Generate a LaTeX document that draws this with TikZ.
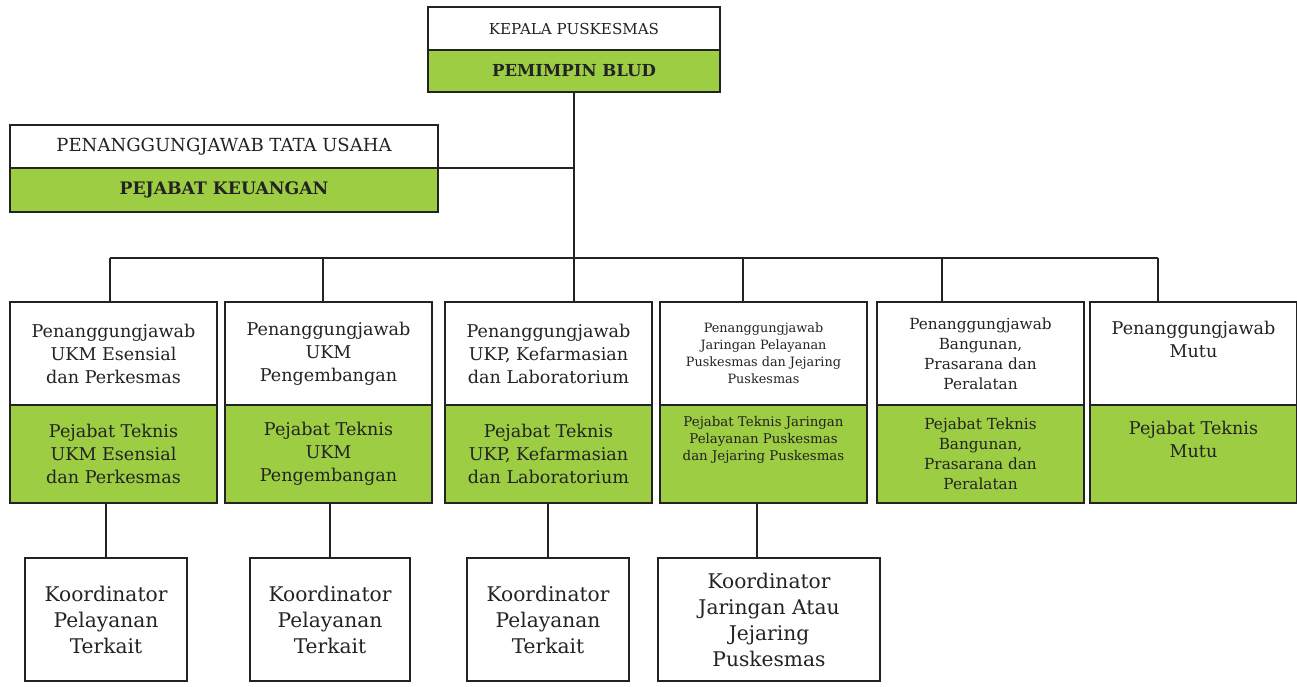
\documentclass[tikz,border=0pt]{standalone}
\usepackage{fontspec}
\setmainfont{DejaVu Serif}
\usetikzlibrary{positioning}
\definecolor{bludgreen}{RGB}{156,205,66}
\definecolor{inkgray}{RGB}{35,35,35}

\begin{document}
\begin{tikzpicture}[
    box/.style={draw=inkgray, line width=1.1pt, rectangle, align=center, inner sep=2pt, outer sep=0pt, text=inkgray},
    whitebox/.style={box, fill=white},
    greenbox/.style={box, fill=bludgreen},
    colhead/.style={minimum width=4.14cm, minimum height=2.06cm, font=\fontsize{10}{13.1}\selectfont},
    colfoot/.style={minimum width=4.14cm, minimum height=1.96cm, font=\fontsize{10}{13.1}\selectfont},
    smalltext/.style={font=\fontsize{7.3}{9.7}\selectfont},
    midtext/.style={font=\fontsize{8.7}{11.4}\selectfont},
    koor/.style={box, fill=white, anchor=north west, minimum height=2.46cm, font=\fontsize{11.5}{14.8}\selectfont},
    conn/.style={draw=inkgray, line width=1.1pt}
]
\useasboundingbox (0,0) rectangle (25.94,-13.74);

% Kepala Puskesmas / Pemimpin BLUD
\node[whitebox, anchor=north west, minimum width=5.84cm, minimum height=0.86cm, font=\fontsize{8.6}{10}\selectfont] (kepala) at (8.56,-0.14) {KEPALA PUSKESMAS};
\node[greenbox, below=0pt of kepala, minimum width=5.84cm, minimum height=0.84cm, font=\fontsize{9.4}{10}\selectfont\bfseries] (blud) {PEMIMPIN BLUD};

% Tata usaha / keuangan
\node[whitebox, anchor=north west, minimum width=8.56cm, minimum height=0.86cm, font=\fontsize{10.25}{12}\selectfont] (tatausaha) at (0.20,-2.50) {PENANGGUNGJAWAB TATA USAHA};
\node[greenbox, below=0pt of tatausaha, minimum width=8.56cm, minimum height=0.88cm, font=\fontsize{9.8}{11}\selectfont\bfseries] (keuangan) {PEJABAT KEUANGAN};

% Penanggungjawab / pejabat teknis
\node[whitebox, colhead, anchor=north west] (pj1) at (0.20,-6.04) {Penanggungjawab\\ UKM Esensial\\ dan Perkesmas};
\node[greenbox, colfoot, below=0pt of pj1] (pt1) {Pejabat Teknis\\ UKM Esensial\\ dan Perkesmas};

\node[whitebox, colhead, anchor=north west] (pj2) at (4.50,-6.04) {Penanggungjawab\\ UKM\\ Pengembangan};
\node[greenbox, colfoot, below=0pt of pj2] (pt2) {Pejabat Teknis\\ UKM\\ Pengembangan};

\node[whitebox, colhead, anchor=north west] (pj3) at (8.90,-6.04) {Penanggungjawab\\ UKP, Kefarmasian\\ dan Laboratorium};
\node[greenbox, colfoot, below=0pt of pj3] (pt3) {Pejabat Teknis\\ UKP, Kefarmasian\\ dan Laboratorium};

\node[whitebox, colhead, smalltext, anchor=north west] (pj4) at (13.20,-6.04) {Penanggungjawab\\ Jaringan Pelayanan\\ Puskesmas dan Jejaring\\ Puskesmas};
\node[greenbox, colfoot, font=\fontsize{7.6}{9.7}\selectfont, below=0pt of pj4] (pt4) {Pejabat Teknis Jaringan\\ Pelayanan Puskesmas\\ dan Jejaring Puskesmas\\[8pt]\mbox{}};

\node[whitebox, colhead, midtext, anchor=north west] (pj5) at (17.54,-6.04) {Penanggungjawab\\ Bangunan,\\ Prasarana dan\\ Peralatan};
\node[greenbox, colfoot, midtext, below=0pt of pj5] (pt5) {Pejabat Teknis\\ Bangunan,\\ Prasarana dan\\ Peralatan};

\node[whitebox, colhead, anchor=north west] (pj6) at (21.80,-6.04) {Penanggungjawab\\ Mutu\\[3pt]\mbox{}};
\node[greenbox, colfoot, below=0pt of pj6] (pt6) {Pejabat Teknis\\ Mutu\\[4pt]\mbox{}};

% Koordinator
\node[koor, minimum width=3.24cm] (kr1) at (0.50,-11.16) {Koordinator\\ Pelayanan\\ Terkait};
\node[koor, minimum width=3.20cm] (kr2) at (5.00,-11.16) {Koordinator\\ Pelayanan\\ Terkait};
\node[koor, minimum width=3.24cm] (kr3) at (9.34,-11.16) {Koordinator\\ Pelayanan\\ Terkait};
\node[koor, minimum width=4.44cm] (kr4) at (13.16,-11.16) {Koordinator\\ Jaringan Atau\\ Jejaring\\ Puskesmas};

% garis
\coordinate (tap1) at (2.20,-5.16);
\coordinate (tap2) at (6.46,-5.16);
\coordinate (tap4) at (14.86,-5.16);
\coordinate (tap5) at (18.84,-5.16);
\coordinate (tap6) at (23.16,-5.16);
\draw[conn] (blud.south) -- (blud.south |- pj3.north);
\draw[conn] (tatausaha.south east) -- (tatausaha.south east -| blud.south);
\draw[conn] (tap1) -- (tap6);
\foreach \n in {1,2,4,5,6}
  \draw[conn] (tap\n) -- (tap\n |- pj\n.north);
\foreach \n in {1,2,3}
  \draw[conn] (kr\n.north) -- (kr\n.north |- pt\n.south);
\draw[conn] ([xshift=-0.24cm]kr4.north) -- ([xshift=-0.24cm]kr4.north |- pt4.south);

\end{tikzpicture}
\end{document}
